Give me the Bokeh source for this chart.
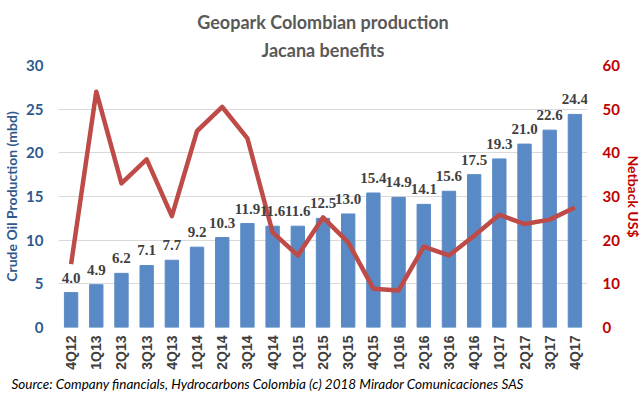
from bokeh.plotting import figure
from bokeh.models import (FactorRange, Range1d, LinearAxis, ColumnDataSource,
                          LabelSet, Title, FixedTicker)
from bokeh.embed import file_html
from bokeh.resources import INLINE
import math

quarters = ["4Q12", "1Q13", "2Q13", "3Q13", "4Q13", "1Q14", "2Q14", "3Q14", "4Q14",
            "1Q15", "2Q15", "3Q15", "4Q15", "1Q16", "2Q16", "3Q16", "4Q16",
            "1Q17", "2Q17", "3Q17", "4Q17"]
production = [4.0, 4.9, 6.2, 7.1, 7.7, 9.2, 10.3, 11.9, 11.6, 11.6, 12.5, 13.0,
              15.4, 14.9, 14.1, 15.6, 17.5, 19.3, 21.0, 22.6, 24.4]
netback = [14.5, 54.0, 33.0, 38.5, 25.5, 45.0, 50.5, 43.3, 21.8, 16.5, 25.2, 19.5,
           8.9, 8.5, 18.5, 16.5, 21.0, 25.8, 23.7, 24.7, 27.5]
left_ticks = [0, 5, 10, 15, 20, 25, 30]
right_ticks = [0, 10, 20, 30, 40, 50, 60]

title_line1 = "Geopark Colombian production"
title_line2 = "Jacana benefits"
source_text = "Source: Company financials, Hydrocarbons Colombia (c) 2018 Mirador Comunicaciones SAS"

src = ColumnDataSource(dict(q=quarters, prod=production, nb=netback,
                            lbl=[f"{v:.1f}" for v in production]))

p = figure(x_range=FactorRange(*quarters, range_padding=0), y_range=Range1d(0, 30),
           width=644, height=398, output_backend="svg", toolbar_location=None,
           min_border_left=57, min_border_right=57, min_border_top=65, min_border_bottom=71)
p.extra_y_ranges = {"nb": Range1d(0, 60)}
p.outline_line_color = None
p.background_fill_color = "white"
p.border_fill_color = "white"
p.title = None

p.add_layout(Title(text=title_line2, align="center", text_font="Lato", text_font_size="18px",
                   text_font_style="bold", text_color="#595959", standoff=9), "above")
p.add_layout(Title(text=title_line1, align="center", text_font="Lato", text_font_size="18px",
                   text_font_style="bold", text_color="#595959", standoff=0), "above")

p.vbar(x="q", top="prod", width=0.53, source=src, color="#5A8AC6")
p.line(x="q", y="nb", source=src, y_range_name="nb", line_color="#BE4B48", line_width=4.5,
       line_join="round")

labels = LabelSet(x="q", y="prod", text="lbl", source=src, text_align="center",
                  text_baseline="alphabetic", y_offset=10, text_font="Lato",
                  text_font_size="15px", text_font_style="bold", text_color="#404040")
p.add_layout(labels)

p.xgrid.grid_line_color = None
p.ygrid.grid_line_color = "#D9D9D9"
p.ygrid.ticker = FixedTicker(ticks=left_ticks)

ya = p.yaxis[0]
ya.ticker = FixedTicker(ticks=left_ticks)
ya.axis_line_color = None
ya.major_tick_line_color = None
ya.minor_tick_line_color = None
ya.major_tick_out = 0
ya.major_label_standoff = 15
ya.major_label_text_font = "Lato"
ya.major_label_text_font_size = "15px"
ya.major_label_text_font_style = "bold"
ya.major_label_text_color = "#2F5A8E"
ya.axis_label = "Crude Oil Production (mbd)"
ya.axis_label_text_font = "Lato"
ya.axis_label_text_font_size = "14px"
ya.axis_label_text_font_style = "bold"
ya.axis_label_text_color = "#2F5A8E"
ya.axis_label_standoff = 3

ra = LinearAxis(y_range_name="nb", ticker=FixedTicker(ticks=right_ticks))
ra.axis_line_color = None
ra.major_tick_line_color = None
ra.minor_tick_line_color = None
ra.major_tick_out = 0
ra.major_label_standoff = 15
ra.major_label_text_font = "Lato"
ra.major_label_text_font_size = "15px"
ra.major_label_text_font_style = "bold"
ra.major_label_text_color = "#C00000"
ra.axis_label = "Netback US$"
ra.axis_label_text_font = "Lato"
ra.axis_label_text_font_size = "14px"
ra.axis_label_text_font_style = "bold"
ra.axis_label_text_color = "#C00000"
ra.axis_label_standoff = 2
p.add_layout(ra, "right")

xa = p.xaxis[0]
xa.axis_line_color = None
xa.major_tick_line_color = None
xa.minor_tick_line_color = None
xa.major_tick_out = 0
xa.major_label_standoff = 8
xa.major_label_orientation = math.pi / 2
xa.major_label_text_font = "Liberation Sans"
xa.major_label_text_font_size = "14px"
xa.major_label_text_font_style = "bold"
xa.major_label_text_color = "#404040"

p.add_layout(Title(text=source_text, align="left", text_font="Lato", text_font_size="13.5px",
                   text_font_style="italic", text_color="#000000", offset=-47, standoff=2),
             "below")

open("out.html", "w").write(file_html(p, INLINE))
